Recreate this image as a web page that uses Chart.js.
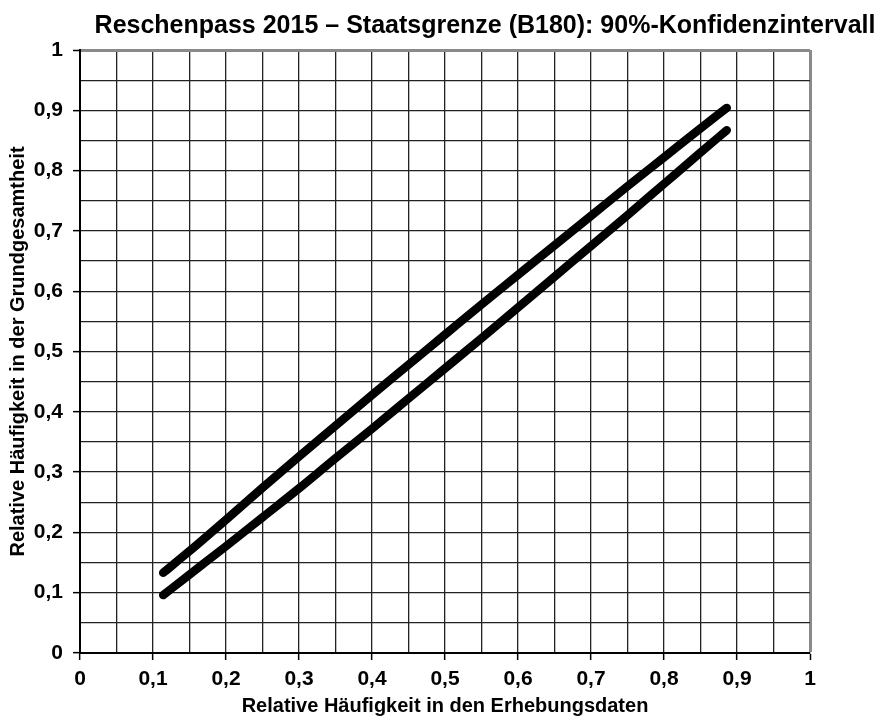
<!DOCTYPE html>
<html>
<head>
<meta charset="utf-8">
<script src="https://cdn.jsdelivr.net/npm/chart.js@4.4.1/dist/chart.umd.min.js"></script>
<style>
    html, body { margin: 0; padding: 0; background: #fff; }
    #wrap { width: 886px; height: 722px; }
</style>
</head>
<body>
<div id="wrap"><canvas id="chart"></canvas></div>
<script>
const chartTitle = 'Reschenpass 2015 – Staatsgrenze (B180): 90%-Konfidenzintervall';
const xTitle = 'Relative Häufigkeit in den Erhebungsdaten';
const yTitle = 'Relative Häufigkeit in der Grundgesamtheit';

// relative frequency in the sample (x) and the interval bounds
const sampleShare = [0.114, 0.15, 0.2, 0.25, 0.3, 0.35, 0.4, 0.45, 0.5, 0.55, 0.6, 0.65, 0.7, 0.75, 0.8, 0.85, 0.886];
const upperBound = [0.133, 0.169, 0.221, 0.274, 0.326, 0.377, 0.428, 0.478, 0.528, 0.578, 0.627, 0.676, 0.725, 0.774, 0.822, 0.870, 0.904];
const lowerBound = [0.096, 0.130, 0.177, 0.225, 0.273, 0.323, 0.372, 0.422, 0.472, 0.522, 0.573, 0.624, 0.675, 0.726, 0.778, 0.830, 0.867];

const fontFamily = "'Liberation Sans', Arial, sans-serif";

function toPoints(xs, ys) {
    return xs.map((x, i) => ({ x: x, y: ys[i] }));
}

function formatTick(value) {
    const tenth = Math.round(value * 100);
    if (tenth % 10 !== 0) return '';
    return String(tenth / 100).replace('.', ',');
}

function isMajor(ctx) {
    return ctx.tick && Math.round(ctx.tick.value * 100) % 10 === 0;
}

function gridColor(ctx) {
    if (ctx.tick && Math.round(ctx.tick.value * 100) === 100) return '#8a8a8a';
    return '#222';
}

function gridWidth(ctx) {
    if (ctx.tick && Math.round(ctx.tick.value * 100) === 100) return 3;
    return 1.3;
}

// title is centred over the whole drawing, not the plot area
const titlePlugin = {
    id: 'sheetTitle',
    afterDraw(chart) {
        const c = chart.ctx;
        c.save();
        c.font = 'bold 25px ' + fontFamily;
        c.fillStyle = '#000';
        c.textAlign = 'center';
        c.textBaseline = 'alphabetic';
        c.fillText(chartTitle, 485, 33);
        c.restore();
    }
};

function axisOptions(title, fitSize, horizontal) {
    return {
        type: 'linear',
        min: 0,
        max: 1,
        border: { display: true, color: '#000', width: 2 },
        grid: {
            color: gridColor,
            lineWidth: gridWidth,
            tickColor: ctx => isMajor(ctx) ? '#000' : 'rgba(0,0,0,0)',
            tickLength: 7,
            tickWidth: 1.5
        },
        ticks: {
            stepSize: 0.05,
            autoSkip: false,
            maxRotation: 0,
            color: '#000',
            padding: horizontal ? 7 : 10,
            font: { family: fontFamily, size: 21, weight: 'bold' },
            callback: formatTick
        },
        title: {
            display: true,
            text: title,
            color: '#000',
            padding: horizontal ? { top: 0, bottom: 4 } : { top: 6, bottom: 0 },
            font: { family: fontFamily, size: 20, weight: 'bold' }
        },
        afterFit(scale) {
            if (horizontal) scale.height = fitSize; else scale.width = fitSize;
        }
    };
}

const lineStyle = {
    showLine: true,
    borderColor: '#000',
    backgroundColor: '#000',
    borderWidth: 8.5,
    borderCapStyle: 'round',
    borderJoinStyle: 'round',
    pointRadius: 0,
    pointHoverRadius: 0,
    cubicInterpolationMode: 'monotone',
    fill: false
};

new Chart(document.getElementById('chart'), {
    type: 'scatter',
    data: {
        datasets: [
            Object.assign({ label: 'Obergrenze', data: toPoints(sampleShare, upperBound) }, lineStyle),
            Object.assign({ label: 'Untergrenze', data: toPoints(sampleShare, lowerBound) }, lineStyle)
        ]
    },
    options: {
        responsive: true,
        maintainAspectRatio: false,
        animation: false,
        layout: { padding: { top: 50, right: 76, bottom: 0, left: 0 } },
        plugins: {
            legend: { display: false },
            tooltip: { enabled: false }
        },
        scales: {
            x: axisOptions(xTitle, 69, true),
            y: axisOptions(yTitle, 80, false)
        }
    },
    plugins: [titlePlugin]
});
</script>
</body>
</html>
